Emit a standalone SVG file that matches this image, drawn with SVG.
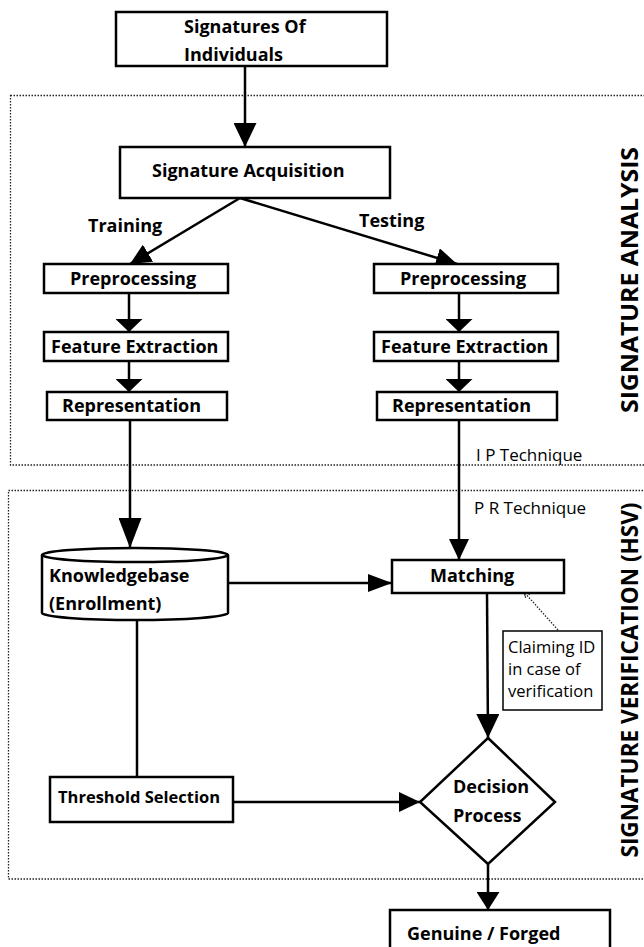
<svg xmlns="http://www.w3.org/2000/svg" width="644" height="947" viewBox="0 0 644 947">
<style>
.box{fill:#fff;stroke:#000;stroke-width:2.5}
.thin{fill:#fff;stroke:#000;stroke-width:1.5}
.ln{fill:none;stroke:#000;stroke-width:2.5}
.dot{fill:none;stroke:#222;stroke-width:1.3;stroke-dasharray:1.5 1.5}
.t{font-family:"Open Sans","Noto Sans",sans-serif;font-weight:bold;font-size:18px;fill:#000}
.s{font-size:16.5px}
.r{font-family:"Open Sans","Noto Sans",sans-serif;font-size:17px;fill:#000}
.c{font-family:"Open Sans","Noto Sans",sans-serif;font-size:16.5px;fill:#000}
.v{font-family:"Open Sans","Noto Sans",sans-serif;font-weight:bold;font-size:24px;fill:#000}
</style>
<defs>
<marker id="mA" markerUnits="userSpaceOnUse" markerWidth="25" markerHeight="23" refX="24" refY="11.5" orient="auto"><path d="M0,0 L24,11.5 L0,23 z" fill="#000"/></marker>
<marker id="mB" markerUnits="userSpaceOnUse" markerWidth="14" markerHeight="27" refX="13" refY="13.5" orient="auto"><path d="M0,0 L13,13.5 L0,27 z" fill="#000"/></marker>
<marker id="mC" markerUnits="userSpaceOnUse" markerWidth="31" markerHeight="23" refX="30" refY="11.5" orient="auto"><path d="M0,0 L30,11.5 L0,23 z" fill="#000"/></marker>
<marker id="mD" markerUnits="userSpaceOnUse" markerWidth="22" markerHeight="20" refX="21" refY="10" orient="auto"><path d="M0,0 L21,10 L0,20 z" fill="#000"/></marker>
<marker id="mE" markerUnits="userSpaceOnUse" markerWidth="25" markerHeight="18" refX="24" refY="9" orient="auto"><path d="M0,0 L24,9 L0,18 z" fill="#000"/></marker>
<marker id="mH" markerUnits="userSpaceOnUse" markerWidth="19" markerHeight="23" refX="18" refY="11.5" orient="auto"><path d="M0,0 L18,11.5 L0,23 z" fill="#000"/></marker>
<marker id="mS" markerUnits="userSpaceOnUse" markerWidth="7" markerHeight="6" refX="6" refY="3" orient="auto"><path d="M0,0 L6,3 L0,6" fill="none" stroke="#222" stroke-width="1"/></marker>
</defs>

<g id="regions">
<rect class="dot" x="10.5" y="95.5" width="660" height="369.5"/>
<rect class="dot" x="8.5" y="490.5" width="660" height="388.5"/>
<text class="v" transform="translate(638,280) rotate(-90)" text-anchor="middle" textLength="266" lengthAdjust="spacingAndGlyphs">SIGNATURE ANALYSIS</text>
<text class="v" transform="translate(638,680) rotate(-90)" text-anchor="middle" textLength="355" lengthAdjust="spacingAndGlyphs">SIGNATURE VERIFICATION (HSV)</text>
</g>

<g id="connectors">
<line class="ln" x1="245" y1="66" x2="245" y2="147" marker-end="url(#mA)"/>
<line class="ln" x1="240" y1="198" x2="130" y2="264" marker-end="url(#mD)"/>
<line class="ln" x1="240" y1="198" x2="457" y2="264" marker-end="url(#mD)"/>
<line class="ln" x1="129" y1="293" x2="129" y2="332" marker-end="url(#mB)"/>
<line class="ln" x1="129" y1="361" x2="129" y2="392" marker-end="url(#mB)"/>
<line class="ln" x1="459" y1="293" x2="459" y2="332" marker-end="url(#mB)"/>
<line class="ln" x1="459" y1="361" x2="459" y2="392" marker-end="url(#mB)"/>
<line class="ln" x1="130" y1="420" x2="130" y2="548" marker-end="url(#mC)"/>
<line class="ln" x1="459" y1="420" x2="459" y2="560" marker-end="url(#mD)"/>
<line class="ln" x1="228" y1="583" x2="392" y2="583" marker-end="url(#mE)"/>
<line class="ln" x1="137" y1="620" x2="137" y2="777"/>
<line class="ln" x1="233" y1="802" x2="420" y2="802" marker-end="url(#mD)"/>
<line class="ln" x1="487" y1="593" x2="488" y2="738" marker-end="url(#mA)"/>
<line class="ln" x1="488" y1="864" x2="488" y2="910" marker-end="url(#mH)"/>
<line class="dot" x1="558" y1="630" x2="524" y2="592" marker-end="url(#mS)"/>
<text class="t" x="88" y="232">Training</text>
<text class="t" x="359" y="227">Testing</text>
<text class="r" x="476" y="461">I P Technique</text>
<text class="r" x="474" y="514">P R Technique</text>
</g>

<g id="n-signatures">
<rect class="box" x="116" y="12" width="271" height="54"/>
<text class="t" x="184" y="33">Signatures Of</text>
<text class="t" x="184" y="61">Individuals</text>
</g>
<g id="n-acquisition">
<rect class="box" x="120" y="147" width="270" height="51"/>
<text class="t" x="152" y="177">Signature Acquisition</text>
</g>
<g id="n-pre-train">
<rect class="box" x="44" y="264" width="184" height="29"/>
<text class="t" x="70" y="285">Preprocessing</text>
</g>
<g id="n-feat-train">
<rect class="box" x="44" y="332" width="184" height="29"/>
<text class="t" x="51" y="353">Feature Extraction</text>
</g>
<g id="n-rep-train">
<rect class="box" x="47" y="392" width="180" height="28"/>
<text class="t" x="62" y="412">Representation</text>
</g>
<g id="n-pre-test">
<rect class="box" x="374" y="264" width="184" height="29"/>
<text class="t" x="400" y="285">Preprocessing</text>
</g>
<g id="n-feat-test">
<rect class="box" x="374" y="332" width="184" height="29"/>
<text class="t" x="381" y="353">Feature Extraction</text>
</g>
<g id="n-rep-test">
<rect class="box" x="377" y="392" width="180" height="28"/>
<text class="t" x="392" y="412">Representation</text>
</g>
<g id="n-knowledgebase">
<path class="box" d="M42,555 A93,7 0 0,1 228,555 V613 A93,7 0 0,1 42,613 Z"/>
<path class="ln" d="M42,555 A93,7 0 0,0 228,555"/>
<text class="t" x="49" y="582">Knowledgebase</text>
<text class="t" x="49" y="610">(Enrollment)</text>
</g>
<g id="n-matching">
<rect class="box" x="392" y="560" width="172" height="33"/>
<text class="t" x="430" y="582">Matching</text>
</g>
<g id="n-claiming">
<rect class="thin" x="503" y="631" width="99" height="79"/>
<text class="c" x="508" y="653">Claiming ID</text>
<text class="c" x="508" y="675">in case of</text>
<text class="c" x="508" y="697">verification</text>
</g>
<g id="n-threshold">
<rect class="box" x="50" y="777" width="183" height="45"/>
<text class="t s" x="58" y="803">Threshold Selection</text>
</g>
<g id="n-decision">
<polygon class="box" points="488,738 555,802 488,864 420,802"/>
<text class="t" x="453" y="793">Decision</text>
<text class="t" x="453" y="822">Process</text>
</g>
<g id="n-result">
<rect class="box" x="390" y="910" width="220" height="45"/>
<text class="t" x="407" y="940">Genuine / Forged</text>
</g>
</svg>
